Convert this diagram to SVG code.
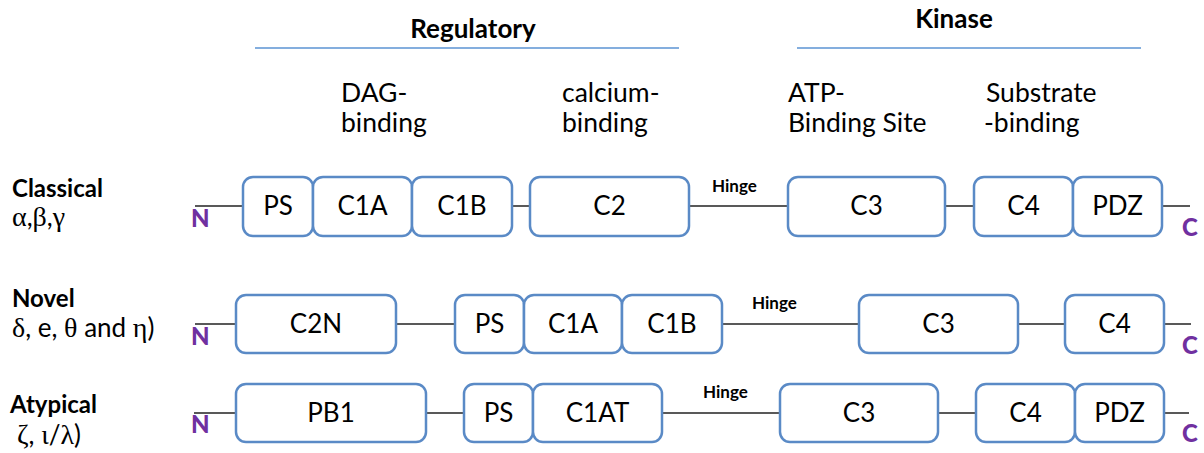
<svg xmlns="http://www.w3.org/2000/svg" width="1204" height="453" viewBox="0 0 1204 453">
  <style>
    text { font-family: Lato, "Open Sans", "Liberation Sans", sans-serif; fill: #000; }
    .dom rect { fill: #fff; stroke: #5a8ac6; stroke-width: 2.5; }
    .dom text { font-size: 26px; text-anchor: middle; }
    .lbl { font-size: 26.5px; }
    .hdr { font-size: 26px; font-weight: bold; text-anchor: middle; }
    .cls { font-size: 24px; font-weight: bold; }
    .sub { font-size: 26px; }
    .gr { font-family: "Liberation Serif", "DejaVu Serif", serif; font-size: 28px; }
    .hinge { font-size: 17px; font-weight: bold; }
    .term { font-size: 24px; font-weight: 900; fill: #7030a0; }
    .link { stroke: #222; stroke-width: 1.5; fill: none; }
    .rule { stroke: #5b93d3; stroke-width: 1.5; }
  </style>

  <!-- headers -->
  <g id="headers">
    <text class="hdr" x="473" y="38">Regulatory</text>
    <line class="rule" x1="255" y1="48" x2="679" y2="48"/>
    <text class="hdr" x="954" y="28">Kinase</text>
    <line class="rule" x1="797" y1="48" x2="1141" y2="48"/>
    <text class="lbl" x="341" y="102">DAG-</text>
    <text class="lbl" x="341" y="132">binding</text>
    <text class="lbl" x="562" y="102">calcium-</text>
    <text class="lbl" x="562" y="132">binding</text>
    <text class="lbl" x="788" y="102">ATP-</text>
    <text class="lbl" x="788" y="132">Binding Site</text>
    <text class="lbl" x="986" y="102">Substrate</text>
    <text class="lbl" x="984" y="132">-binding</text>
  </g>

  <!-- class labels -->
  <g id="class-labels">
    <text class="cls" x="12" y="197">Classical</text>
    <text class="sub" x="12" y="226"><tspan class="gr">α</tspan>,<tspan class="gr">β</tspan>,<tspan class="gr">γ</tspan></text>
    <text class="cls" x="12" y="307">Novel</text>
    <text class="sub" x="12" y="337"><tspan class="gr">δ</tspan>, e, <tspan class="gr">θ</tspan> and <tspan class="gr">η</tspan>)</text>
    <text class="cls" x="10" y="413">Atypical</text>
    <text class="sub" x="17" y="444"><tspan class="gr">ζ</tspan>, <tspan class="gr">ι</tspan>/<tspan class="gr">λ</tspan>)</text>
  </g>

  <!-- backbone connectors and hinge labels -->
  <g id="connectors">
    <line class="link" x1="195" y1="206" x2="1190" y2="206"/>
    <line class="link" x1="195" y1="324" x2="1191" y2="324"/>
    <line class="link" x1="194" y1="413" x2="1189" y2="413"/>
    <text class="hinge" x="712" y="192">Hinge</text>
    <text class="hinge" x="752" y="309">Hinge</text>
    <text class="hinge" x="703" y="398">Hinge</text>
  </g>

  <!-- terminus labels -->
  <g id="termini">
    <text class="term" x="191" y="227">N</text>
    <text class="term" x="1182" y="236">C</text>
    <text class="term" x="191" y="345">N</text>
    <text class="term" x="1182" y="354">C</text>
    <text class="term" x="191" y="433">N</text>
    <text class="term" x="1182" y="442">C</text>
  </g>

  <!-- classical row -->
  <g id="classical">
    <g id="c-ps" class="dom"><rect x="243" y="177" width="70" height="59" rx="10"/><text x="278" y="215">PS</text></g>
    <g id="c-c1a" class="dom"><rect x="313" y="177" width="99" height="59" rx="10"/><text x="362.5" y="215">C1A</text></g>
    <g id="c-c1b" class="dom"><rect x="412" y="177" width="100" height="59" rx="10"/><text x="462" y="215">C1B</text></g>
    <g id="c-c2" class="dom"><rect x="530" y="177" width="159" height="59" rx="10"/><text x="609.5" y="215">C2</text></g>
    <g id="c-c3" class="dom"><rect x="788" y="177" width="157" height="59" rx="10"/><text x="866.5" y="215">C3</text></g>
    <g id="c-c4" class="dom"><rect x="974" y="177" width="99" height="59" rx="10"/><text x="1023.5" y="215">C4</text></g>
    <g id="c-pdz" class="dom"><rect x="1073" y="177" width="89" height="59" rx="10"/><text x="1117.5" y="215">PDZ</text></g>
  </g>

  <!-- novel row -->
  <g id="novel">
    <g id="n-c2n" class="dom"><rect x="236" y="295" width="160" height="58" rx="10"/><text x="316" y="333">C2N</text></g>
    <g id="n-ps" class="dom"><rect x="455" y="295" width="69" height="58" rx="10"/><text x="489.5" y="333">PS</text></g>
    <g id="n-c1a" class="dom"><rect x="524" y="295" width="98" height="58" rx="10"/><text x="573" y="333">C1A</text></g>
    <g id="n-c1b" class="dom"><rect x="622" y="295" width="100" height="58" rx="10"/><text x="672" y="333">C1B</text></g>
    <g id="n-c3" class="dom"><rect x="859" y="295" width="159" height="58" rx="10"/><text x="938.5" y="333">C3</text></g>
    <g id="n-c4" class="dom"><rect x="1065" y="295" width="99" height="58" rx="10"/><text x="1114.5" y="333">C4</text></g>
  </g>

  <!-- atypical row -->
  <g id="atypical">
    <g id="a-pb1" class="dom"><rect x="236" y="384" width="190" height="58" rx="10"/><text x="331" y="422">PB1</text></g>
    <g id="a-ps" class="dom"><rect x="464" y="384" width="69" height="58" rx="10"/><text x="498.5" y="422">PS</text></g>
    <g id="a-c1at" class="dom"><rect x="533" y="384" width="129" height="58" rx="10"/><text x="597.5" y="422">C1AT</text></g>
    <g id="a-c3" class="dom"><rect x="780" y="384" width="158" height="58" rx="10"/><text x="859" y="422">C3</text></g>
    <g id="a-c4" class="dom"><rect x="976" y="384" width="99" height="58" rx="10"/><text x="1025.5" y="422">C4</text></g>
    <g id="a-pdz" class="dom"><rect x="1075" y="384" width="89" height="58" rx="10"/><text x="1119.5" y="422">PDZ</text></g>
  </g>
</svg>
